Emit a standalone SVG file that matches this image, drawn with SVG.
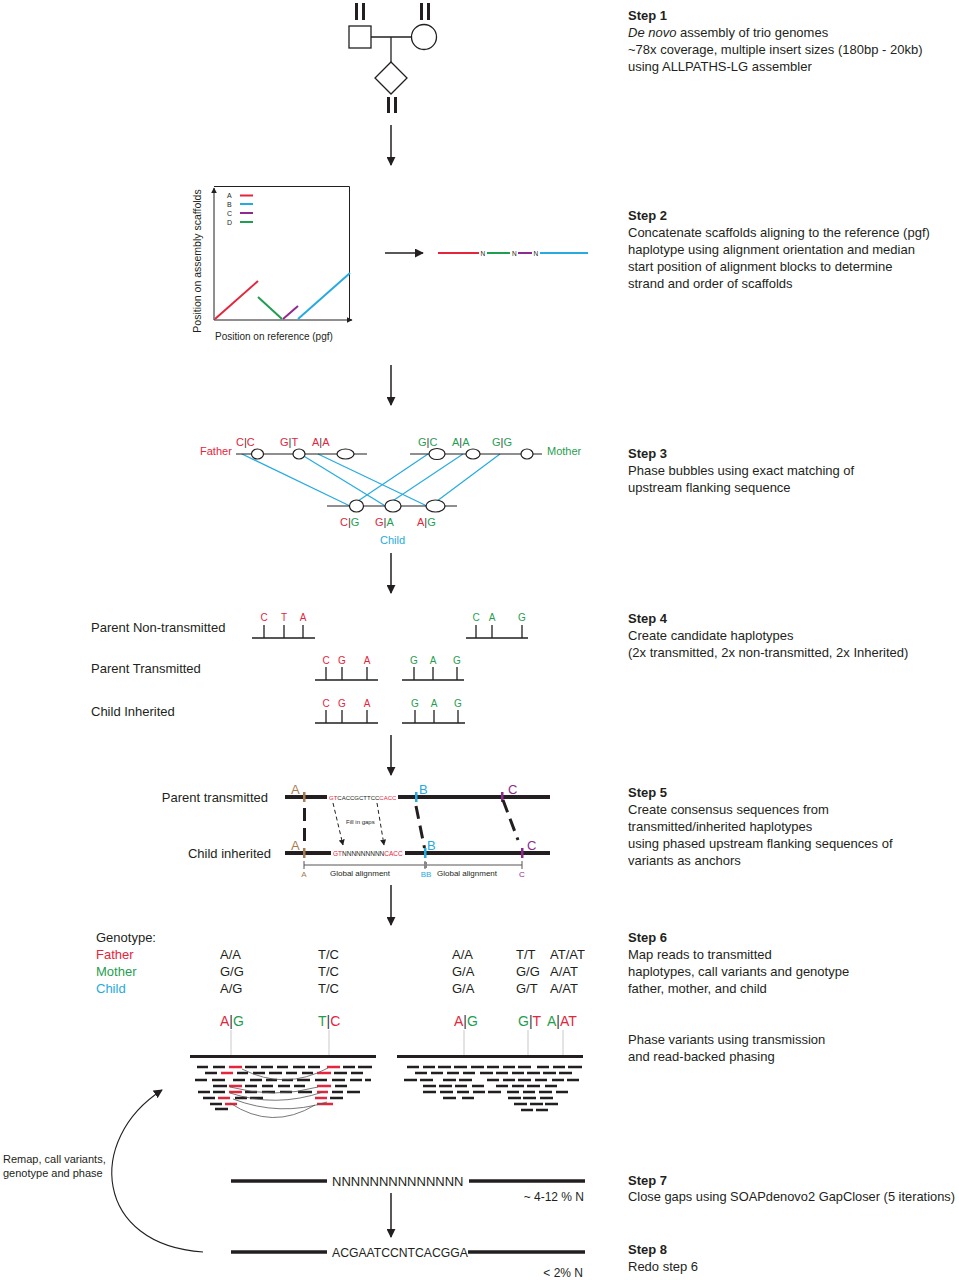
<svg xmlns="http://www.w3.org/2000/svg" width="959" height="1280" viewBox="0 0 959 1280">
<defs>
<style>
text{font-family:"Liberation Sans",Arial,sans-serif;fill:#231f20}
.s{font-size:13px}
.b{font-weight:bold}
.ln{stroke:#231f20;fill:none}
.red{fill:#e4253c}.grn{fill:#1f9e4f}.blu{fill:#27aae1}.pur{fill:#8e2a8e}.brn{fill:#a57c52}
.bar{fill:#3a3a3a}
.rd{stroke:#231f20;stroke-width:2.6;fill:none}
.rr{stroke:#e4253c;stroke-width:2.6;fill:none}
.bl{stroke:#27aae1;stroke-width:1.2;fill:none}
.el{fill:#fff;stroke:#231f20;stroke-width:1.2}
</style>
<marker id="ah" viewBox="0 0 10 10" refX="9" refY="5" markerWidth="9" markerHeight="9" markerUnits="userSpaceOnUse" orient="auto"><path d="M0,0L10,5L0,10z" fill="#231f20"/></marker>
<marker id="ahs" viewBox="0 0 10 10" refX="9" refY="5" markerWidth="6" markerHeight="6" markerUnits="userSpaceOnUse" orient="auto"><path d="M0,0L10,5L0,10z" fill="#231f20"/></marker>
</defs>
<rect width="959" height="1280" fill="#fff"/>

<g id="connectors">
<line class="ln" x1="391" y1="125" x2="391" y2="165" stroke-width="1.5" marker-end="url(#ah)"/>
<line class="ln" x1="385" y1="253" x2="423" y2="253" stroke-width="1.5" marker-end="url(#ah)"/>
<line class="ln" x1="391" y1="365" x2="391" y2="405" stroke-width="1.5" marker-end="url(#ah)"/>
<line class="ln" x1="391" y1="553" x2="391" y2="593" stroke-width="1.5" marker-end="url(#ah)"/>
<line class="ln" x1="391" y1="735" x2="391" y2="775" stroke-width="1.5" marker-end="url(#ah)"/>
<line class="ln" x1="391" y1="885" x2="391" y2="925" stroke-width="1.5" marker-end="url(#ah)"/>
<line class="ln" x1="391" y1="1193" x2="391" y2="1237" stroke-width="1.5" marker-end="url(#ah)"/>
<path class="ln" d="M203,1252 C95,1245 85,1140 162,1090" stroke-width="1.1" marker-end="url(#ah)"/>
</g>

<g id="pedigree">
<rect x="349" y="26" width="22" height="22" class="ln" stroke-width="1.3"/>
<circle cx="424" cy="37" r="12.5" class="ln" stroke-width="1.3"/>
<line x1="371" y1="37" x2="411.5" y2="37" class="ln" stroke-width="1.3"/>
<line x1="391" y1="37" x2="391" y2="62" class="ln" stroke-width="1.3"/>
<path d="M391,62 L407,78 L391,94 L375,78 Z" class="ln" stroke-width="1.3"/>
<g fill="#231f20">
<rect x="355" y="3" width="3" height="17"/><rect x="362" y="3" width="3" height="17"/>
<rect x="420" y="3" width="3" height="17"/><rect x="427" y="3" width="3" height="17"/>
<rect x="387" y="97" width="3" height="16"/><rect x="394" y="97" width="3" height="16"/>
</g>
</g>

<g id="step2-plot">
<line x1="214" y1="320" x2="214" y2="188" class="ln" stroke-width="1" marker-end="url(#ahs)"/>
<line x1="214" y1="320" x2="352" y2="320" class="ln" stroke-width="1" marker-end="url(#ahs)"/>
<path d="M214,186.5 H349.5 V320" class="ln" stroke-width="1"/>
<text x="227" y="198" font-size="7">A</text>
<text x="227" y="207" font-size="7">B</text>
<text x="227" y="216" font-size="7">C</text>
<text x="227" y="225" font-size="7">D</text>
<line x1="240" y1="195.5" x2="253" y2="195.5" stroke="#e4253c" stroke-width="2"/>
<line x1="240" y1="204" x2="253" y2="204" stroke="#27aae1" stroke-width="2"/>
<line x1="240" y1="213" x2="253" y2="213" stroke="#8e2a8e" stroke-width="2"/>
<line x1="240" y1="222" x2="253" y2="222" stroke="#1f9e4f" stroke-width="2"/>
<line x1="215" y1="319" x2="258" y2="281" stroke="#e4253c" stroke-width="2"/>
<line x1="258" y1="297" x2="282" y2="319" stroke="#1f9e4f" stroke-width="2"/>
<line x1="283" y1="319" x2="298" y2="306" stroke="#8e2a8e" stroke-width="2"/>
<line x1="298" y1="319" x2="350" y2="273" stroke="#27aae1" stroke-width="2"/>
<text x="215" y="340" font-size="10">Position on reference (pgf)</text>
<text transform="translate(201,261) rotate(-90)" text-anchor="middle" font-size="10.5">Position on assembly scaffolds</text>
</g>

<g id="step2-concat">
<line x1="438" y1="253" x2="479" y2="253" stroke="#e4253c" stroke-width="2"/>
<text x="480.5" y="255.5" font-size="6.5">N</text>
<line x1="487" y1="253" x2="510" y2="253" stroke="#1f9e4f" stroke-width="2"/>
<text x="512" y="255.5" font-size="6.5">N</text>
<line x1="518" y1="253" x2="532" y2="253" stroke="#8e2a8e" stroke-width="2"/>
<text x="533.5" y="255.5" font-size="6.5">N</text>
<line x1="540" y1="253" x2="588" y2="253" stroke="#27aae1" stroke-width="2"/>
</g>

<g id="step3">
<line x1="242" y1="454" x2="350" y2="506" class="bl"/>
<line x1="302" y1="455" x2="387" y2="507" class="bl"/>
<line x1="318" y1="454" x2="427" y2="506" class="bl"/>
<line x1="428" y1="454" x2="352" y2="505" class="bl"/>
<line x1="463" y1="454" x2="385" y2="506" class="bl"/>
<line x1="500" y1="454" x2="433" y2="504" class="bl"/>
<line x1="236" y1="454" x2="367" y2="454" class="ln" stroke-width="1.2"/>
<line x1="410" y1="454" x2="542" y2="454" class="ln" stroke-width="1.2"/>
<line x1="327" y1="506" x2="457" y2="506" class="ln" stroke-width="1.2"/>
<ellipse cx="257.5" cy="454" rx="6" ry="5" class="el"/>
<ellipse cx="299" cy="454" rx="6" ry="5" class="el"/>
<ellipse cx="345.5" cy="454" rx="8.5" ry="5" class="el"/>
<ellipse cx="437" cy="454" rx="8" ry="5.5" class="el"/>
<ellipse cx="473" cy="454" rx="7" ry="5" class="el"/>
<ellipse cx="527" cy="454" rx="6" ry="5" class="el"/>
<ellipse cx="356.5" cy="506" rx="7" ry="6" class="el"/>
<ellipse cx="393" cy="506" rx="8" ry="6" class="el"/>
<ellipse cx="435.5" cy="506" rx="9.5" ry="6" class="el"/>
<g font-size="11">
<text x="200" y="455" class="red">Father</text>
<text x="547" y="455" class="grn">Mother</text>
<text x="380" y="544" class="blu">Child</text>
<text x="236" y="446"><tspan class="red">C</tspan><tspan class="bar">|</tspan><tspan class="red">C</tspan></text>
<text x="280" y="446"><tspan class="red">G</tspan><tspan class="bar">|</tspan><tspan class="red">T</tspan></text>
<text x="312" y="446"><tspan class="red">A</tspan><tspan class="bar">|</tspan><tspan class="red">A</tspan></text>
<text x="418" y="446"><tspan class="grn">G</tspan><tspan class="bar">|</tspan><tspan class="grn">C</tspan></text>
<text x="452" y="446"><tspan class="grn">A</tspan><tspan class="bar">|</tspan><tspan class="grn">A</tspan></text>
<text x="492" y="446"><tspan class="grn">G</tspan><tspan class="bar">|</tspan><tspan class="grn">G</tspan></text>
<text x="340" y="526"><tspan class="red">C</tspan><tspan class="bar">|</tspan><tspan class="grn">G</tspan></text>
<text x="375" y="526"><tspan class="red">G</tspan><tspan class="bar">|</tspan><tspan class="grn">A</tspan></text>
<text x="417" y="526"><tspan class="red">A</tspan><tspan class="bar">|</tspan><tspan class="grn">G</tspan></text>
</g>
</g>

<g id="step4">
<text x="91" y="632" class="s">Parent Non-transmitted</text>
<text x="91" y="673" class="s">Parent Transmitted</text>
<text x="91" y="716" class="s">Child Inherited</text>
<g class="ln" stroke-width="1.3">
<path d="M252,638H315M264,638V625M284,638V625M303,638V625"/>
<path d="M466,638H528M476,638V625M492,638V625M522,638V625"/>
<path d="M315,680H378M326,680V667M342,680V667M367,680V667"/>
<path d="M402,680H464M414,680V667M433,680V667M457,680V667"/>
<path d="M315,723H378M326,723V710M342,723V710M367,723V710"/>
<path d="M402,723H465M415,723V710M434,723V710M458,723V710"/>
</g>
<g font-size="10" text-anchor="middle">
<text x="264" y="621" class="red">C</text><text x="284" y="621" class="red">T</text><text x="303" y="621" class="red">A</text>
<text x="476" y="621" class="grn">C</text><text x="492" y="621" class="grn">A</text><text x="522" y="621" class="grn">G</text>
<text x="326" y="664" class="red">C</text><text x="342" y="664" class="red">G</text><text x="367" y="664" class="red">A</text>
<text x="414" y="664" class="grn">G</text><text x="433" y="664" class="grn">A</text><text x="457" y="664" class="grn">G</text>
<text x="326" y="707" class="red">C</text><text x="342" y="707" class="red">G</text><text x="367" y="707" class="red">A</text>
<text x="415" y="707" class="grn">G</text><text x="434" y="707" class="grn">A</text><text x="458" y="707" class="grn">G</text>
</g>
</g>

<g id="step5">
<text x="268" y="802" class="s" text-anchor="end">Parent transmitted</text>
<text x="271" y="858" class="s" text-anchor="end">Child inherited</text>
<g stroke="#231f20" stroke-width="4">
<line x1="285" y1="797" x2="327" y2="797"/>
<line x1="398" y1="797" x2="550" y2="797"/>
<line x1="285" y1="853" x2="331" y2="853"/>
<line x1="405" y1="853" x2="550" y2="853"/>
</g>
<text x="329" y="799.5" font-size="6"><tspan class="red">GT</tspan>CACCGCTTCC<tspan class="red">CACC</tspan></text>
<text x="333" y="855.5" font-size="6.5"><tspan class="red">GT</tspan>NNNNNNNNN<tspan class="red">CACC</tspan></text>
<rect x="303" y="792" width="2.5" height="10" fill="#a57c52"/>
<rect x="415" y="792" width="2.5" height="10" fill="#27aae1"/>
<rect x="501" y="792" width="2.5" height="10" fill="#8e2a8e"/>
<rect x="303" y="848" width="2.5" height="10" fill="#a57c52"/>
<rect x="424" y="848" width="2.5" height="10" fill="#27aae1"/>
<rect x="521" y="848" width="2.5" height="10" fill="#8e2a8e"/>
<g font-size="13">
<text x="291" y="794" class="brn">A</text>
<text x="419" y="794" class="blu">B</text>
<text x="508" y="794" class="pur">C</text>
<text x="291" y="850" class="brn">A</text>
<text x="427" y="850" class="blu">B</text>
<text x="527" y="850" class="pur">C</text>
</g>
<g stroke="#231f20" stroke-width="3" fill="none" stroke-dasharray="13,7">
<line x1="304.5" y1="808" x2="304.5" y2="848"/>
<line x1="416" y1="806" x2="424.5" y2="848"/>
<line x1="503" y1="800" x2="518" y2="840"/>
</g>
<g stroke="#231f20" stroke-width="1" fill="none" stroke-dasharray="4,3">
<line x1="333" y1="803" x2="343" y2="845" marker-end="url(#ahs)"/>
<line x1="377" y1="803" x2="384" y2="845" marker-end="url(#ahs)"/>
</g>
<text x="346" y="824" font-size="6">Fill in gaps</text>
<g stroke="#555" stroke-width="1" fill="none">
<path d="M304,865H522M304,861V869M425,861V869M522,861V869"/>
</g>
<rect x="424" y="862" width="3" height="6" fill="#888"/>
<g font-size="8">
<text x="330" y="876">Global alignment</text>
<text x="437" y="876">Global alignment</text>
<text x="304" y="877" text-anchor="middle" class="brn">A</text>
<text x="426" y="877" text-anchor="middle" class="blu">BB</text>
<text x="522" y="877" text-anchor="middle" class="pur">C</text>
</g>
</g>

<g id="step6-genotypes" class="s">
<text x="96" y="942" font-size="13">Genotype:</text>
<text x="96" y="959" class="red" font-size="13">Father</text>
<text x="96" y="976" class="grn" font-size="13">Mother</text>
<text x="96" y="993" class="blu" font-size="13">Child</text>
<g font-size="13">
<text x="220" y="959">A/A</text><text x="318" y="959">T/C</text><text x="452" y="959">A/A</text><text x="516" y="959">T/T</text><text x="550" y="959">AT/AT</text>
<text x="220" y="976">G/G</text><text x="318" y="976">T/C</text><text x="452" y="976">G/A</text><text x="516" y="976">G/G</text><text x="550" y="976">A/AT</text>
<text x="220" y="993">A/G</text><text x="318" y="993">T/C</text><text x="452" y="993">G/A</text><text x="516" y="993">G/T</text><text x="550" y="993">A/AT</text>
</g>
</g>

<g id="step6-reads-left">
<g font-size="14">
<text x="220" y="1026"><tspan class="red">A</tspan><tspan class="bar">|</tspan><tspan class="grn">G</tspan></text>
<text x="318" y="1026"><tspan class="grn">T</tspan><tspan class="bar">|</tspan><tspan class="red">C</tspan></text>
</g>
<path d="M231,1030V1055M329,1030V1055" stroke="#bbb" stroke-width="0.8"/>
<line x1="190" y1="1056.5" x2="376" y2="1056.5" stroke="#231f20" stroke-width="3"/>
<path class="rd" d="M197,1067h11M213,1067h12M245,1067h12M261,1067h12M277,1067h11M293,1067h12M308,1067h12M343,1067h12M358,1067h14
M205,1073h12M237,1073h11M253,1073h12M269,1073h13M286,1073h11M302,1073h11M334,1073h13M351,1073h12
M195,1080h12M212,1080h13M233,1080h12M250,1080h12M266,1080h11M282,1080h11M297,1080h13M315,1080h12M332,1080h13M350,1080h12M365,1080h6
M213,1086h14M245,1086h12M262,1086h11M278,1086h12M294,1086h11M335,1086h12
M198,1092h12M213,1092h12M245,1092h12M262,1092h13M280,1092h12M298,1092h14M332,1092h11M347,1092h13
M203,1098h12M235,1098h12M250,1098h13M330,1098h13
M210,1104h12
M215,1109h13"/>
<path class="rr" d="M229,1067h13M327,1067h13M221,1073h12M317,1073h14M229,1086h13M317,1086h14M229,1092h13M317,1092h11M218,1098h12M315,1098h12M225,1104h12M317,1104h16"/>
<g stroke="#555" stroke-width="0.8" fill="none">
<path d="M242,1069 Q285,1091 328,1068"/>
<path d="M230,1087 Q274,1099 318,1087"/>
<path d="M230,1093 Q276,1108 323,1092"/>
<path d="M233,1099 Q280,1117 327,1102"/>
<path d="M230,1103 Q272,1131 315,1105"/>
</g>
</g>

<g id="step6-reads-right">
<g font-size="14">
<text x="454" y="1026"><tspan class="red">A</tspan><tspan class="bar">|</tspan><tspan class="grn">G</tspan></text>
<text x="518" y="1026"><tspan class="grn">G</tspan><tspan class="bar">|</tspan><tspan class="red">T</tspan></text>
<text x="547" y="1026"><tspan class="grn">A</tspan><tspan class="bar">|</tspan><tspan class="red">AT</tspan></text>
</g>
<path d="M464,1030V1055M528,1030V1055M563,1030V1055" stroke="#bbb" stroke-width="0.8"/>
<line x1="397" y1="1056.5" x2="583" y2="1056.5" stroke="#231f20" stroke-width="3"/>
<path class="rd" d="M407,1067h12M423,1067h12M438,1067h13M454,1067h13M471,1067h13M487,1067h12M503,1067h12M518,1067h13M537,1067h12M553,1067h12M568,1067h14
M415,1073h12M431,1073h12M447,1073h12M463,1073h12M480,1073h13M496,1073h12M512,1073h12M527,1073h13M543,1073h13M559,1073h13
M404,1080h13M420,1080h13M443,1080h13M459,1080h13M487,1080h12M503,1080h12M518,1080h13M535,1080h12M552,1080h12M567,1080h12
M423,1086h13M439,1086h13M455,1086h12M472,1086h12M496,1086h12M512,1086h12M527,1086h13M545,1086h12
M423,1092h13M440,1092h13M457,1092h12M473,1092h12M488,1092h13M507,1092h12M523,1092h12M539,1092h13M556,1092h12
M443,1098h13M462,1098h12M508,1098h13M523,1098h13M540,1098h13
M514,1104h13M530,1104h13M545,1104h13
M521,1110h12M536,1110h12"/>
</g>

<g id="step7-8">
<line x1="231" y1="1181" x2="327" y2="1181" stroke="#231f20" stroke-width="3.5"/>
<line x1="469" y1="1181" x2="585" y2="1181" stroke="#231f20" stroke-width="3.5"/>
<text x="332" y="1185.5" font-size="13">NNNNNNNNNNNNNN</text>
<text x="584" y="1201" font-size="12" text-anchor="end">~ 4-12 % N</text>
<line x1="231" y1="1252" x2="327" y2="1252" stroke="#231f20" stroke-width="3.5"/>
<line x1="468" y1="1252" x2="585" y2="1252" stroke="#231f20" stroke-width="3.5"/>
<text x="332" y="1256.5" font-size="12.2">ACGAATCCNTCACGGA</text>
<text x="583" y="1277" font-size="12" text-anchor="end">&lt; 2% N</text>
<text x="3" y="1163" font-size="11">Remap, call variants,</text>
<text x="3" y="1177" font-size="11">genotype and phase</text>
</g>

<g id="steps-text" class="s">
<text x="628" y="20" class="b">Step 1</text>
<text x="628" y="37"><tspan font-style="italic">De novo</tspan> assembly of trio genomes</text>
<text x="628" y="54">~78x coverage, multiple insert sizes (180bp - 20kb)</text>
<text x="628" y="71">using ALLPATHS-LG  assembler</text>
<text x="628" y="220" class="b">Step 2</text>
<text x="628" y="237">Concatenate scaffolds aligning to the reference (pgf)</text>
<text x="628" y="254">haplotype using alignment orientation and median</text>
<text x="628" y="271">start position of alignment blocks to determine</text>
<text x="628" y="288">strand and order of scaffolds</text>
<text x="628" y="458" class="b">Step 3</text>
<text x="628" y="475">Phase bubbles using exact matching of</text>
<text x="628" y="492">upstream flanking sequence</text>
<text x="628" y="623" class="b">Step 4</text>
<text x="628" y="640">Create candidate haplotypes</text>
<text x="628" y="657">(2x transmitted, 2x non-transmitted, 2x Inherited)</text>
<text x="628" y="797" class="b">Step 5</text>
<text x="628" y="814">Create consensus sequences from</text>
<text x="628" y="831">transmitted/inherited haplotypes</text>
<text x="628" y="848">using phased upstream flanking sequences of</text>
<text x="628" y="865">variants as anchors</text>
<text x="628" y="942" class="b">Step 6</text>
<text x="628" y="959">Map reads to transmitted</text>
<text x="628" y="976">haplotypes, call variants and genotype</text>
<text x="628" y="993">father, mother, and child</text>
<text x="628" y="1044">Phase variants using transmission</text>
<text x="628" y="1061">and read-backed phasing</text>
<text x="628" y="1185" class="b">Step 7</text>
<text x="628" y="1201" textLength="327" lengthAdjust="spacingAndGlyphs">Close gaps using SOAPdenovo2 GapCloser (5 iterations)</text>
<text x="628" y="1254" class="b">Step 8</text>
<text x="628" y="1271">Redo step 6</text>
</g>
</svg>
